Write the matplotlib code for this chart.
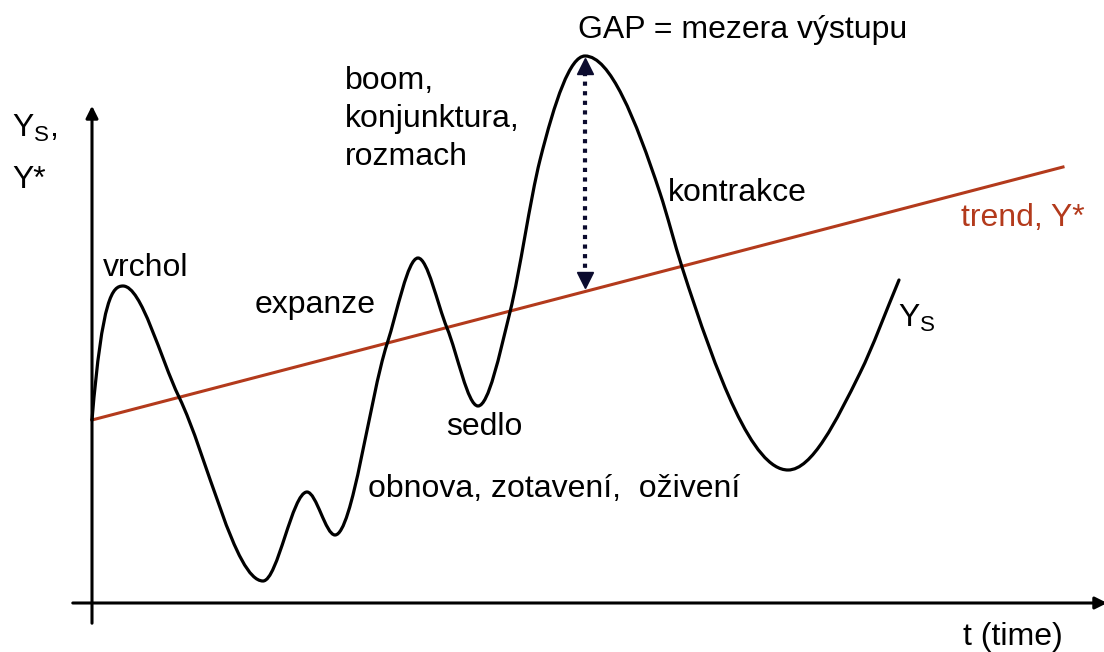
import numpy as np
import matplotlib
matplotlib.use("Agg")
import matplotlib.pyplot as plt
from matplotlib.path import Path
from matplotlib.patches import PathPatch

plt.rcParams['font.family'] = ['Liberation Sans', 'DejaVu Sans']
plt.rcParams['mathtext.fontset'] = 'custom'
plt.rcParams['mathtext.rm'] = 'Liberation Sans'

curve_t = [92, 123, 179, 263, 307, 335, 387, 418, 447, 478, 510, 540, 585,
           660, 682, 788, 860, 899]
curve_y = [420, 286, 397, 581, 492, 535, 344, 258, 328, 406, 312, 160, 56,
           193, 267, 470, 373, 280]

# Trend line Y*
trend_t = [92, 1063]
trend_y = [420, 167]

# Output gap arrow (at the big peak)
gap_t = 585
gap_top = 62
gap_bottom = 287

labels = {
    "vrchol": (103, 268),
    "expanze": (255, 305),
    "boom,\nkonjunktura,\nrozmach": (345, 119),
    "GAP = mezera výstupu": (578, 30),
    "kontrakce": (668, 193),
    "sedlo": (446, 427),
    "obnova, zotavení,  oživení": (368, 489),
}

TREND_COLOR = '#B33A1C'

fig = plt.figure(figsize=(11.04, 6.52), dpi=100)
ax = fig.add_axes([0, 0, 1, 1])
ax.set_xlim(0, 1104)
ax.set_ylim(652, 0)
ax.axis('off')

# smooth curve through key points: Hermite in t, flat at turning points -> cubic Bezier
x = np.array(curve_t, float)
y = np.array(curve_y, float)
n = len(x)
d = np.diff(y) / np.diff(x)
h = np.diff(x)
m = np.zeros(n)
m[0] = -12.0          # near-vertical start next to the axis
m[-1] = d[-1]
for i in range(1, n - 1):
    if d[i - 1] * d[i] < 0:
        m[i] = 0.0
    else:
        m[i] = (h[i - 1] * d[i] + h[i] * d[i - 1]) / (h[i - 1] + h[i])
verts = [(x[0], y[0])]
codes = [Path.MOVETO]
for i in range(n - 1):
    verts += [(x[i] + h[i] / 3, y[i] + m[i] * h[i] / 3),
              (x[i + 1] - h[i] / 3, y[i + 1] - m[i + 1] * h[i] / 3),
              (x[i + 1], y[i + 1])]
    codes += [Path.CURVE4] * 3
ax.add_patch(PathPatch(Path(verts, codes), facecolor='none', edgecolor='black', lw=2.3,
                       zorder=3, capstyle='round', joinstyle='round'))

# trend
ax.plot(trend_t, trend_y, color=TREND_COLOR, lw=2.2, zorder=2)

# axes arrows
ax.annotate('', xy=(92, 103), xytext=(92, 626), annotation_clip=False,
            arrowprops=dict(arrowstyle='-|>', lw=2.2, color='black', mutation_scale=18))
ax.annotate('', xy=(1110, 603), xytext=(70, 603), annotation_clip=False,
            arrowprops=dict(arrowstyle='-|>', lw=2.2, color='black', mutation_scale=18))

# gap arrow
ax.plot([gap_t, gap_t], [gap_top + 10, gap_bottom - 12], color='#0B0B2E', lw=3,
        linestyle=(0, (1, 1.3)), zorder=4)
ax.plot([gap_t], [gap_top + 4], marker='^', color='#0B0B2E', ms=11, zorder=4)
ax.plot([gap_t], [gap_bottom - 7], marker='v', color='#0B0B2E', ms=11, zorder=4)

fs = 23
for txt, (tx, ty) in labels.items():
    ax.text(tx, ty, txt, fontsize=fs, ha='left', va='center', linespacing=1.36, color='black')

ax.text(12, 128, 'Y$_{\\mathregular{S}}$,', fontsize=fs, ha='left', va='center')
ax.text(12, 180, 'Y*', fontsize=fs, ha='left', va='center')
ax.text(1085, 218, 'trend, Y*', fontsize=fs, ha='right', va='center', color=TREND_COLOR)
ax.text(898, 318, 'Y$_{\\mathregular{S}}$', fontsize=fs, ha='left', va='center')
ax.text(963, 637, 't (time)', fontsize=fs, ha='left', va='center')

fig.savefig('out.png', dpi=100)
